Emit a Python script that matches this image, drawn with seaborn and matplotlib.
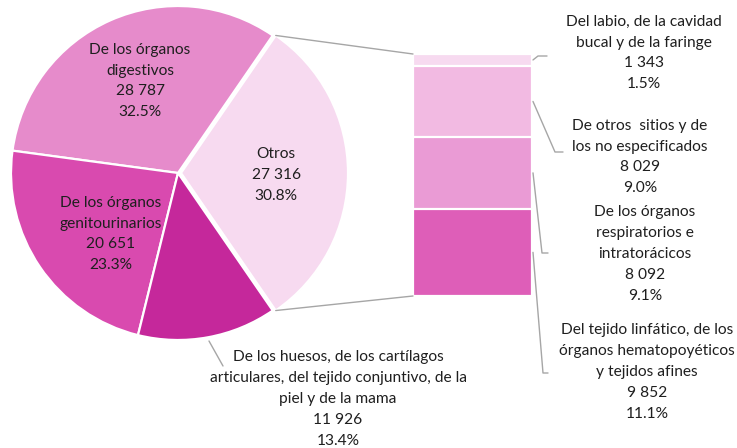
import numpy as np
import matplotlib.pyplot as plt
from matplotlib.patches import ConnectionPatch
from matplotlib.lines import Line2D
import seaborn as sns

# pie data (order: counterclockwise starting with the exploded slice)
pie_labels = ['Otros',
              'De los órganos\ndigestivos',
              'De los órganos\ngenitourinarios',
              'De los huesos, de los cartílagos\narticulares, del tejido conjuntivo, de la\npiel y de la mama']
pie_values = [27316, 28787, 20651, 11926]
pie_pcts = ['30.8%', '32.5%', '23.3%', '13.4%']
pie_colors = ['#F7DAF0', '#E68BCB', '#D94AAF', '#C5289B']

# breakdown of "Otros" (bottom to top)
bar_labels = ['Del tejido linfático, de los\nórganos hematopoyéticos\ny tejidos afines',
              'De los órganos\nrespiratorios e\nintratorácicos',
              'De otros  sitios y de\nlos no especificados',
              'Del labio, de la cavidad\nbucal y de la faringe']
bar_values = [9852, 8092, 8029, 1343]
bar_pcts = ['11.1%', '9.1%', '9.0%', '1.5%']
bar_colors = ['#DE5EB8', '#EA9BD5', '#F2BAE2', '#F7DAF0']

W, H = 737, 448
TXT = '#1F1F1F'
GRAY = '#A6A6A6'

sns.set_theme(style='white')
plt.rcParams['font.family'] = ['Lato', 'DejaVu Sans']


def fmt(v):
    return f'{v:,}'.replace(',', ' ')


def px(x, y):
    return x / W, 1 - y / H


fig = plt.figure(figsize=(W / 100, H / 100), dpi=100)

# pie
cx, cy, R = 178, 173, 167
pax = fig.add_axes([(cx - R) / W, (H - cy - R) / H, 2 * R / W, 2 * R / H])
total = sum(pie_values)
start = -pie_values[0] / total * 180
expl = 0.018
pax.pie(pie_values, colors=pie_colors, startangle=start, counterclock=True,
        explode=[expl, 0, 0, 0],
        wedgeprops=dict(edgecolor='white', linewidth=1.6))
pax.set_xlim(-1, 1)
pax.set_ylim(-1, 1)
pax.set_aspect('equal')
pax.axis('off')

# stacked bar
bx0, bx1, by0, by1 = 413, 532, 54, 296
bax = fig.add_axes([bx0 / W, (H - by1) / H, (bx1 - bx0) / W, (by1 - by0) / H])
tops = np.cumsum(bar_values)
for top, col in reversed(list(zip(tops, bar_colors))):
    sns.barplot(x=[0], y=[top], color=col, saturation=1, width=1,
                edgecolor='white', linewidth=1.6, ax=bax)
bax.set_xlim(-0.5, 0.5)
bax.set_ylim(0, tops[-1])
bax.axis('off')

# connectors pie -> bar
half = np.radians(pie_values[0] / total * 180)
for sgn, yb in [(1, tops[-1]), (-1, 0)]:
    con = ConnectionPatch(xyA=(np.cos(half) + expl, sgn * np.sin(half)), coordsA=pax.transData,
                          xyB=(-0.5, yb), coordsB=bax.transData, color=GRAY, lw=1)
    fig.add_artist(con)

fs = 11.2
ls = 1.62
# pie labels
pie_pos = [(276, 175), (140, 81), (111, 234), (338, 399)]
for lab, v, p, (x, y) in zip(pie_labels, pie_values, pie_pcts, pie_pos):
    fig.text(*px(x, y), f'{lab}\n{fmt(v)}\n{p}', ha='center', va='center',
             fontsize=fs, color=TXT, linespacing=ls)

# leader for the small pie slice
fig.add_artist(Line2D([209 / W, 223 / W], [1 - 341 / H, 1 - 366 / H], color=GRAY, lw=1))

# bar labels and leaders
bar_pos = [(647, 372), (645, 254), (640, 157), (644, 53)]
bar_bend = [(543, 373), (542, 253), (555, 152), (538, 56)]
bar_end = [548, 548, 563, 547]
mids = tops - np.array(bar_values) / 2
for lab, v, p, (x, y), m, (qx, qy), ex in zip(bar_labels, bar_values, bar_pcts, bar_pos,
                                             mids, bar_bend, bar_end):
    fig.text(*px(x, y), f'{lab}\n{fmt(v)}\n{p}', ha='center', va='center',
             fontsize=fs, color=TXT, linespacing=ls)
    sx, sy = bax.transData.transform((0.5, m))
    sy = H - sy
    fig.add_artist(Line2D([(sx + 1) / W, qx / W, ex / W],
                          [1 - sy / H, 1 - qy / H, 1 - qy / H], color=GRAY, lw=1))

fig.savefig('out.png', dpi=100)
